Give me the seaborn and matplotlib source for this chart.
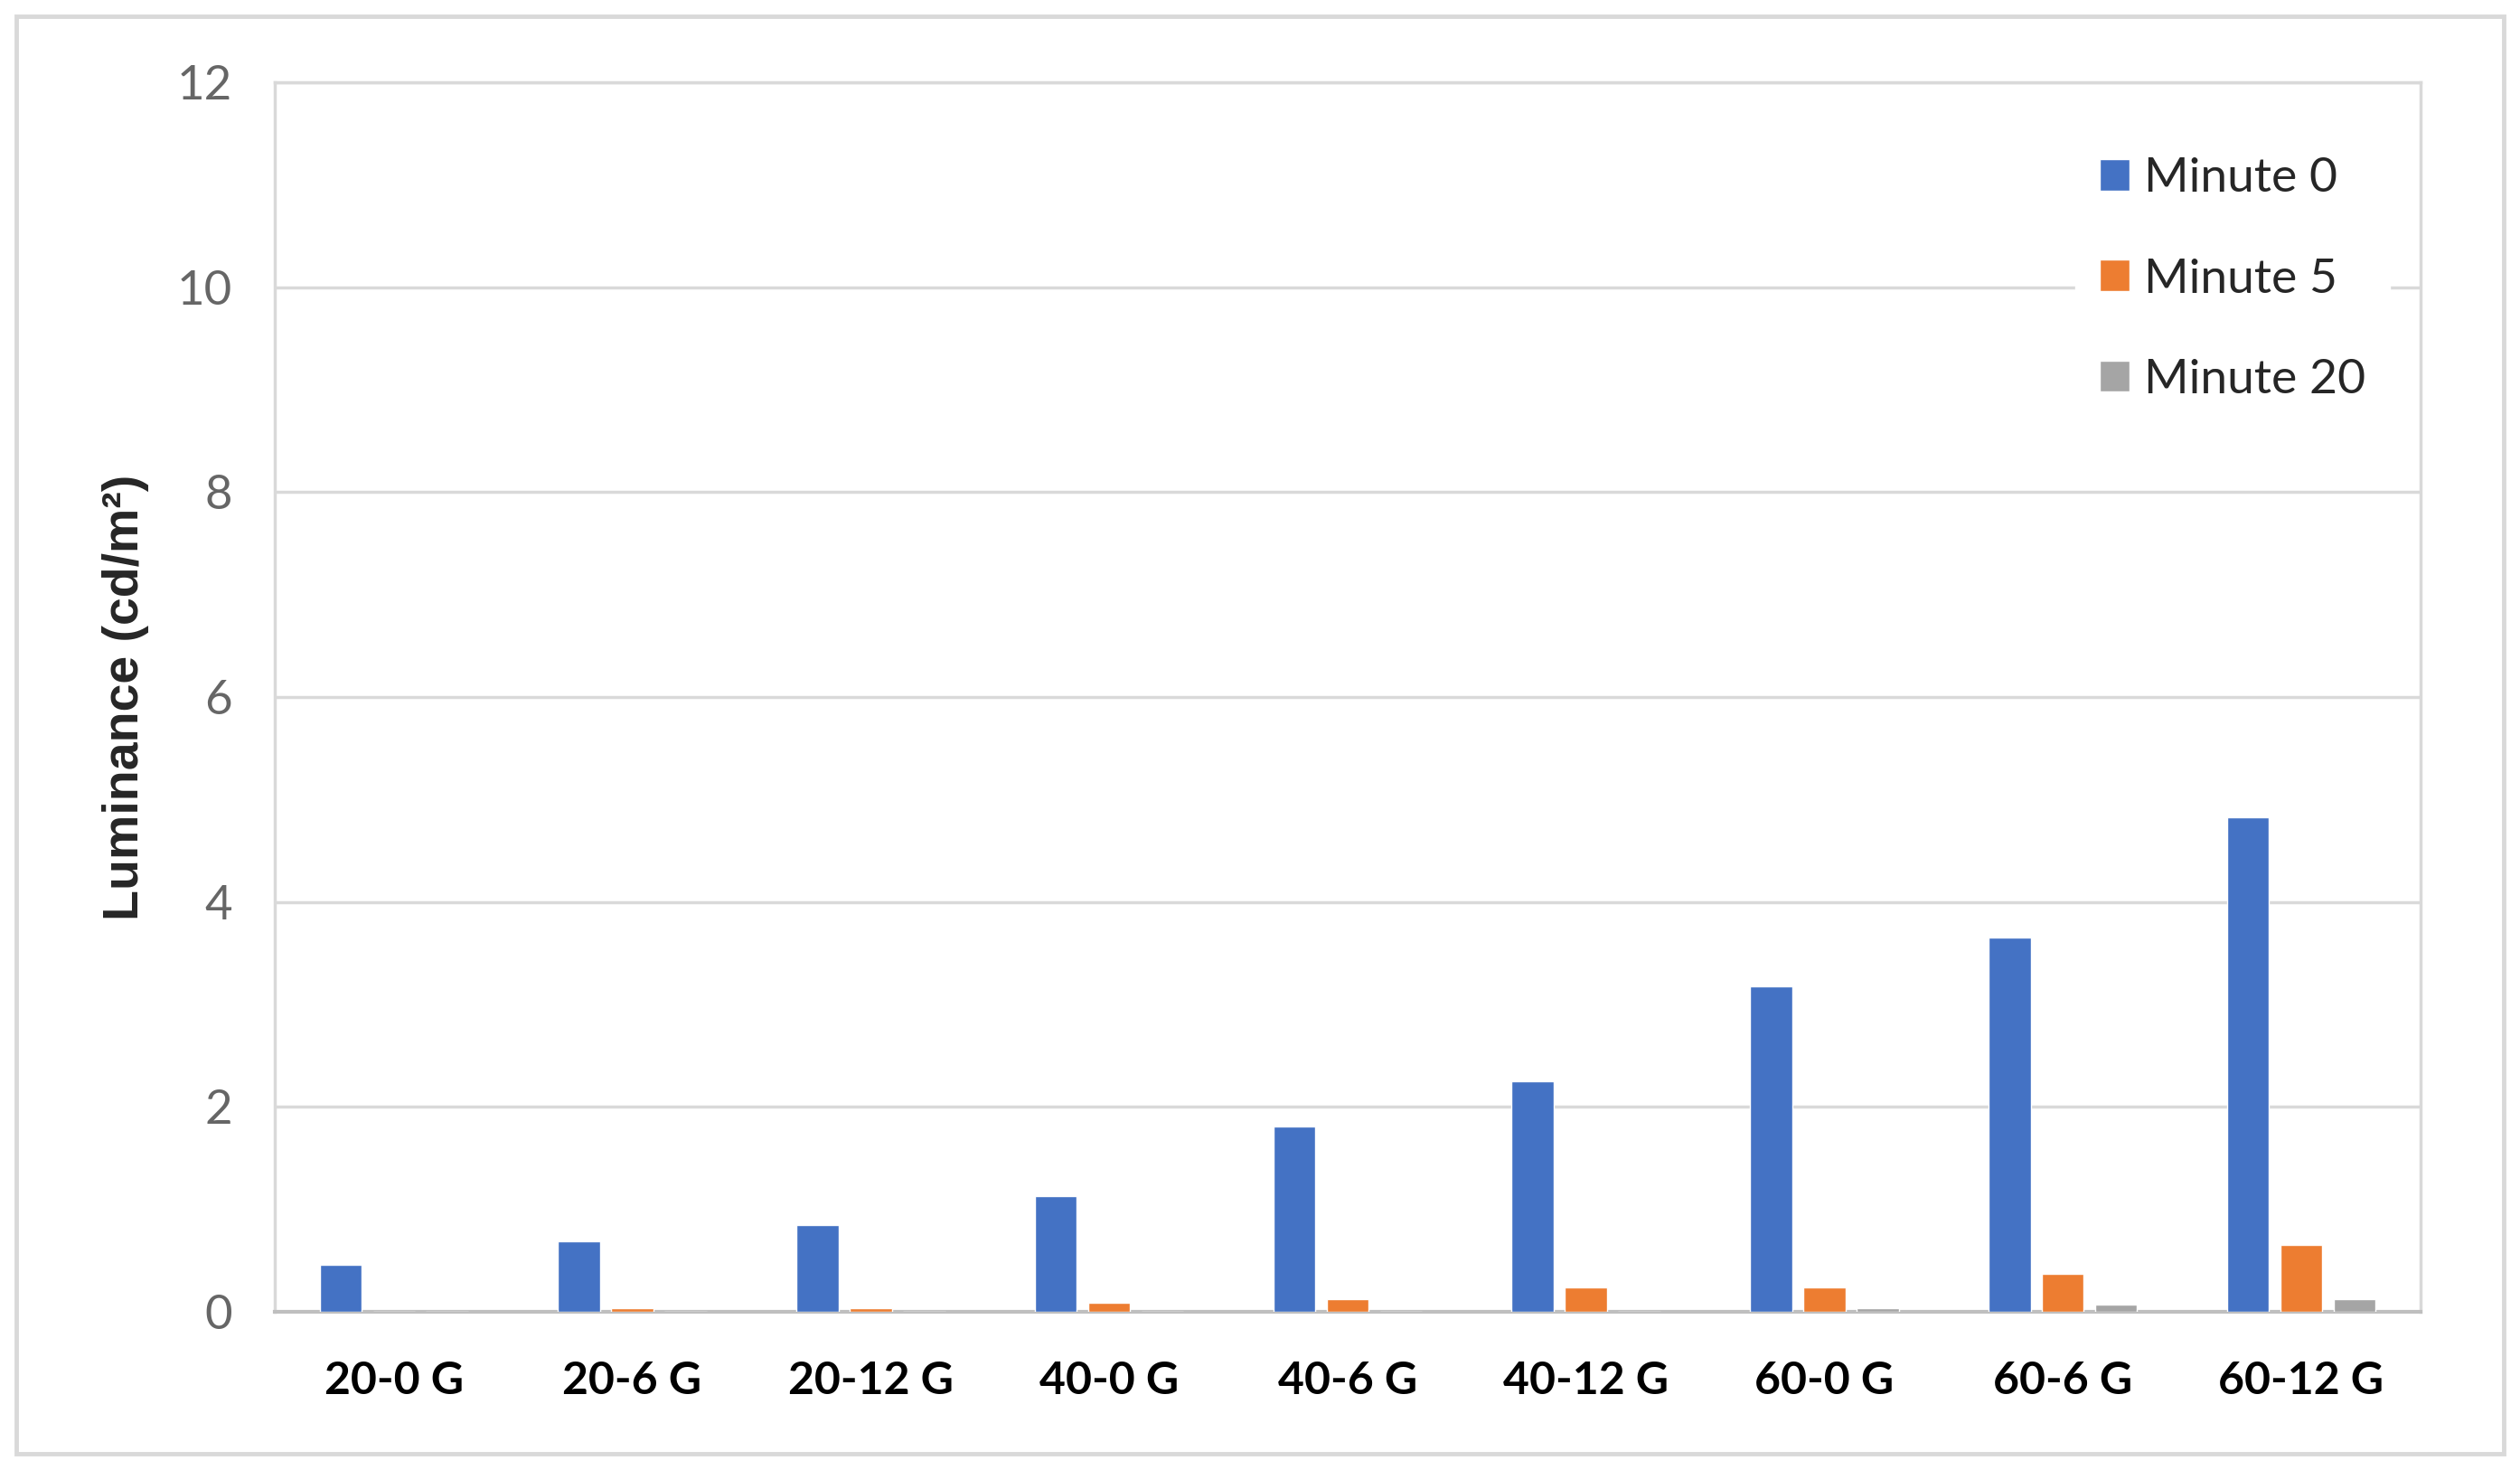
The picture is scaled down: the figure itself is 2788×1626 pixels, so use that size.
import matplotlib
matplotlib.use("Agg")
import matplotlib.pyplot as plt
import seaborn as sns
import pandas as pd
from matplotlib.patches import Rectangle

categories = ["20-0 G", "20-6 G", "20-12 G", "40-0 G", "40-6 G", "40-12 G", "60-0 G", "60-6 G", "60-12 G"]
minute_0 = [0.46, 0.69, 0.85, 1.13, 1.81, 2.25, 3.18, 3.65, 4.83]
minute_5 = [0.0, 0.04, 0.04, 0.09, 0.12, 0.24, 0.24, 0.37, 0.65]
minute_20 = [0.0, 0.0, 0.0, 0.0, 0.0, 0.0, 0.04, 0.07, 0.12]
series_names = ["Minute 0", "Minute 5", "Minute 20"]
colors = ["#4472C4", "#ED7D31", "#A5A5A5"]
y_ticks = [0, 2, 4, 6, 8, 10, 12]

rows = []
for name, vals in zip(series_names, [minute_0, minute_5, minute_20]):
    for c, v in zip(categories, vals):
        rows.append({"cat": c, "series": name, "value": v})
df = pd.DataFrame(rows)

sns.set_theme(style="white")
plt.rcParams['font.family'] = ['Lato', 'DejaVu Sans']

fig = plt.figure(figsize=(27.88, 16.26), dpi=100)
ax = fig.add_axes([0.109, 0.1076, 0.8515, 0.8364])

sns.barplot(data=df, x="cat", y="value", hue="series", order=categories,
            hue_order=series_names, palette=colors, width=0.67, gap=0.21,
            saturation=1, errorbar=None, ax=ax, zorder=3)

ax.set_ylim(0, 12)
ax.set_xlim(-0.5, len(categories) - 0.5)
ax.set_yticks(y_ticks)
ax.set_yticklabels([str(t) for t in y_ticks], color="#666666", fontsize=38)
ax.tick_params(axis="y", length=0, pad=34)
ax.tick_params(axis="x", length=0, pad=39)
for lbl in ax.get_xticklabels():
    lbl.set_fontweight("bold")
    lbl.set_fontsize(36)
    lbl.set_color("black")

ax.yaxis.grid(True, color="#D9D9D9", linewidth=2.5, zorder=0)
ax.set_axisbelow(True)
for side in ["left", "right", "top"]:
    ax.spines[side].set_visible(True)
    ax.spines[side].set_color("#D9D9D9")
    ax.spines[side].set_linewidth(2.5)
ax.spines["bottom"].set_color("#BFBFBF")
ax.spines["bottom"].set_linewidth(3)

ax.set_xlabel("")
ax.set_ylabel("Luminance (cd/m²)", fontsize=40, fontweight="bold",
              family=["Liberation Sans", "DejaVu Sans"])
ax.yaxis.set_label_coords(-0.0585, 0.5)

leg = ax.legend(loc="upper right", bbox_to_anchor=(0.997, 0.978), frameon=True,
                fontsize=38.5, handlelength=0.62, handleheight=0.62,
                handletextpad=0.3, labelspacing=1.2, borderpad=0.5)
leg.get_frame().set_facecolor("white")
leg.get_frame().set_edgecolor("white")
leg.get_frame().set_alpha(1)

fig.patches.append(Rectangle((0.0065, 0.011), 0.987, 0.978, transform=fig.transFigure,
                             fill=False, edgecolor="#D9D9D9", linewidth=3.5))

fig.savefig("out.png", dpi=100, facecolor="white")
